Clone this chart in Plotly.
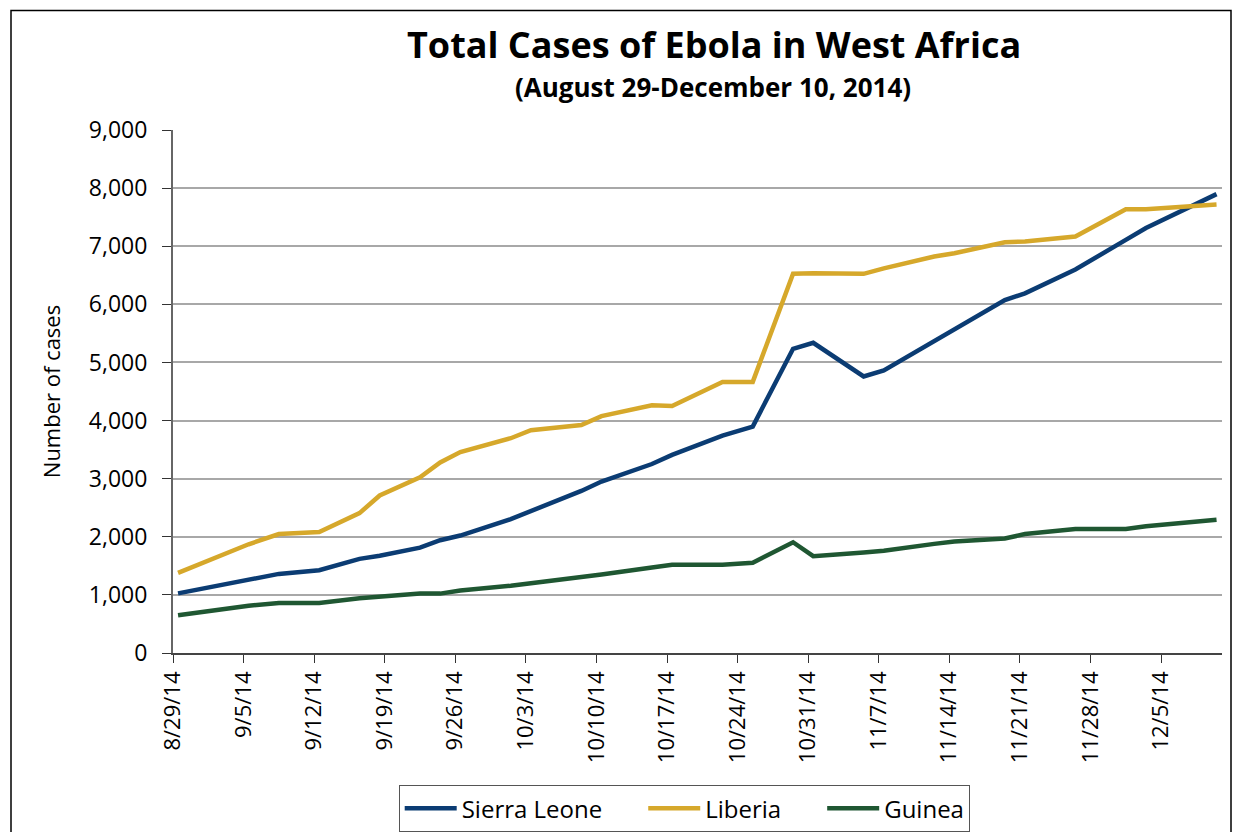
import pandas as pd
import plotly.graph_objects as go

# ---- data ----
dates = ["2014-08-29", "2014-09-05", "2014-09-08", "2014-09-12", "2014-09-16", "2014-09-18",
         "2014-09-22", "2014-09-24", "2014-09-26", "2014-10-01", "2014-10-03", "2014-10-08",
         "2014-10-10", "2014-10-15", "2014-10-17", "2014-10-22", "2014-10-25", "2014-10-29",
         "2014-10-31", "2014-11-05", "2014-11-07", "2014-11-12", "2014-11-14", "2014-11-19",
         "2014-11-21", "2014-11-26", "2014-12-01", "2014-12-03", "2014-12-10"]
sierra_leone = [1026, 1261, 1361, 1424, 1620, 1673, 1813, 1940, 2021, 2304, 2437, 2789,
                2950, 3252, 3410, 3739, 3896, 5235, 5338, 4759, 4862, 5368, 5586, 6073,
                6190, 6599, 7109, 7312, 7897]
liberia = [1378, 1871, 2046, 2081, 2407, 2710, 3022, 3280, 3458, 3696, 3834, 3924,
           4076, 4262, 4249, 4665, 4665, 6525, 6535, 6525, 6619, 6822, 6878, 7069,
           7082, 7168, 7635, 7635, 7719]
guinea = [648, 812, 862, 861, 942, 965, 1022, 1022, 1074, 1157, 1199, 1298,
          1350, 1472, 1519, 1519, 1553, 1906, 1667, 1731, 1760, 1878, 1919, 1971,
          2047, 2134, 2134, 2180, 2292]
series_names = ["Sierra Leone", "Liberia", "Guinea"]
tick_dates = ["2014-08-29", "2014-09-05", "2014-09-12", "2014-09-19", "2014-09-26",
              "2014-10-03", "2014-10-10", "2014-10-17", "2014-10-24", "2014-10-31",
              "2014-11-07", "2014-11-14", "2014-11-21", "2014-11-28", "2014-12-05"]
tick_labels = ["8/29/14", "9/5/14", "9/12/14", "9/19/14", "9/26/14", "10/3/14", "10/10/14",
               "10/17/14", "10/24/14", "10/31/14", "11/7/14", "11/14/14", "11/21/14",
               "11/28/14", "12/5/14"]
y_ticks = [0, 1000, 2000, 3000, 4000, 5000, 6000, 7000, 8000, 9000]

# points sit in the middle of each day (category-style date axis)
x = pd.to_datetime(dates) + pd.Timedelta(hours=12)

FONT = "Open Sans, Noto Sans, sans-serif"
W, H = 1233, 832
L, R, T, B = 173, 1222, 130.3, 652.7


def px(xp):
    return (xp - L) / (R - L)


def py(yp):
    return (B - yp) / (B - T)


fig = go.Figure()
colors = ["#0b3c73", "#d6a82b", "#1f5732"]
values = [sierra_leone, liberia, guinea]
gaps = ["\u2002\u2002\u2002", "\u2002\u2002\u2002", ""]
for name, vals, col, gap in zip(series_names, values, colors, gaps):
    fig.add_trace(go.Scatter(x=x, y=vals, name=name + gap, mode="lines",
                             line=dict(color=col, width=4.5)))

fig.update_layout(
    width=W, height=H,
    margin=dict(l=L, r=W - R, t=T, b=H - B, pad=0, autoexpand=False),
    paper_bgcolor="white", plot_bgcolor="white",
    font=dict(family=FONT, color="black", size=20),
    showlegend=True,
    legend=dict(orientation="h", xref="container", yref="container",
                x=684.5 / W, xanchor="center", y=1 - 785 / H, yanchor="top",
                bordercolor="#555555", borderwidth=1.2, bgcolor="white",
                itemwidth=52, font=dict(size=24, family=FONT)),
    xaxis=dict(type="date", range=["2014-08-29", "2014-12-11 01:00"],
               tickmode="array", tickvals=tick_dates, ticktext=tick_labels,
               tickangle=-90, tickfont=dict(size=22, family=FONT),
               ticks="outside", ticklen=8, tickcolor="#333333", tickwidth=1.2,
               showline=True, linecolor="#444444", linewidth=1.5, automargin=False,
               showgrid=False, zeroline=False),
    yaxis=dict(range=[0, 9000], tickmode="array", tickvals=y_ticks,
               tickformat=",d", tickfont=dict(size=23, family=FONT),
               ticks="outside", ticklen=9, tickcolor="#333333", tickwidth=1.2,
               ticklabelstandoff=10, automargin=False,
               showline=True, linecolor="#666666", linewidth=2,
               showgrid=True, gridcolor="#a8a8a8", gridwidth=1.5, zeroline=False,
               title=dict(text="Number of cases", font=dict(size=22, family=FONT), standoff=22)),
    annotations=[
        dict(text="<b>Total Cases of Ebola in West Africa</b>", xref="paper", yref="paper",
             x=px(714), y=py(45), xanchor="center", yanchor="middle", showarrow=False,
             font=dict(size=36, family=FONT, color="black")),
        dict(text="<b>(August 29-December 10, 2014)</b>", xref="paper", yref="paper",
             x=px(713), y=py(87), xanchor="center", yanchor="middle", showarrow=False,
             font=dict(size=26, family=FONT, color="black")),
    ],
    shapes=[dict(type="rect", xref="paper", yref="paper",
                 x0=px(11), x1=px(1231), y0=py(845), y1=py(11),
                 line=dict(color="black", width=1.5), layer="below")],
)

fig.write_html("out.html")
